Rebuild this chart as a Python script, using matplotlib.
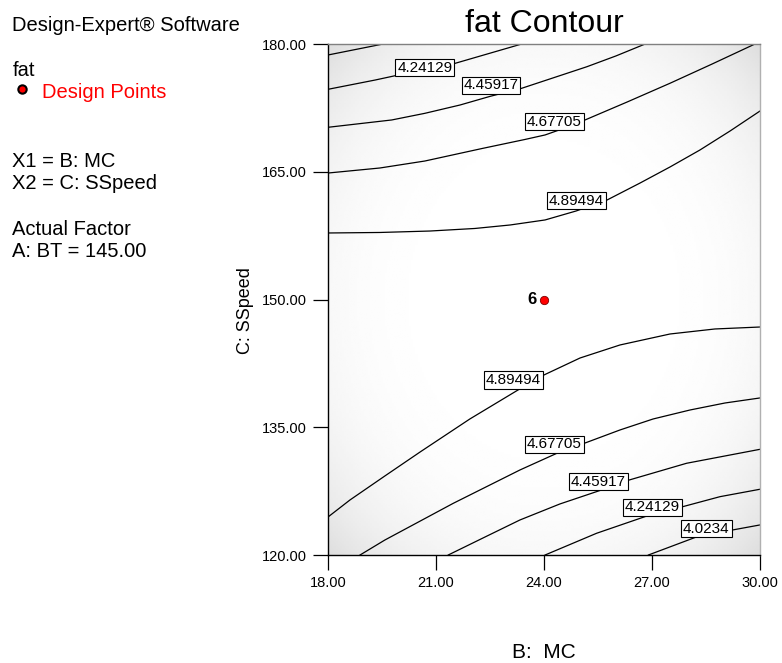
import matplotlib
matplotlib.use("Agg")
import matplotlib.pyplot as plt
import numpy as np
from matplotlib.lines import Line2D

plt.rcParams['font.family'] = ['Liberation Sans', 'DejaVu Sans']

# Factor ranges (B: MC on x, C: SSpeed on y)
x_ticks = [18, 21, 24, 27, 30]
y_ticks = [120, 135, 150, 165, 180]

# contour lines, upper part of the region
top_4023_x = [18.0, 19.53]
top_4023_y = [178.71, 180.0]
top_4241_x = [18.0, 19.31, 20.69, 21.53, 23.38]
top_4241_y = [174.68, 175.77, 177.03, 177.73, 180.0]
top_4459_x = [18.0, 19.77, 20.69, 21.67, 22.5, 23.38, 25.19, 26.0, 26.81]
top_4459_y = [170.22, 171.08, 171.86, 172.84, 173.85, 174.80, 177.33, 178.6, 180.0]
top_4677_x = [18.0, 19.44, 20.69, 22.28, 23.47, 24.03, 24.58, 25.14, 26.31, 27.5, 28.67, 29.86]
top_4677_y = [164.85, 165.44, 166.26, 167.73, 168.79, 169.32, 170.14, 171.08, 173.19, 175.39, 177.65, 180.0]
top_4895_x = [18.0, 19.44, 20.83, 22.08, 23.06, 24.03, 24.89, 25.75, 26.67, 27.5, 28.33, 29.17, 30.0]
top_4895_y = [157.81, 157.87, 158.04, 158.34, 158.75, 159.34, 160.39, 161.68, 163.68, 165.56, 167.55, 169.79, 172.13]

# contour lines, lower part of the region
bot_4895_x = [18.0, 18.61, 19.58, 20.56, 21.94, 23.28, 24.0, 25.0, 26.11, 27.5, 28.75, 30.0]
bot_4895_y = [124.46, 126.46, 129.28, 132.10, 135.97, 139.38, 141.14, 143.13, 144.66, 145.95, 146.54, 146.77]
bot_4677_x = [18.89, 19.58, 21.48, 23.33, 24.44, 25.14, 26.11, 27.03, 28.06, 29.03, 30.0]
bot_4677_y = [120.0, 121.76, 126.07, 129.98, 132.10, 133.15, 134.68, 135.97, 137.03, 137.85, 138.44]
bot_4459_x = [21.34, 22.36, 23.33, 24.44, 25.65, 26.37, 27.96, 30.0]
bot_4459_y = [120.0, 122.11, 124.11, 125.99, 127.71, 128.81, 130.77, 132.41]
bot_4241_x = [24.03, 25.46, 26.94, 27.85, 28.89, 30.0]
bot_4241_y = [120.0, 122.55, 124.70, 125.67, 126.85, 127.72]
bot_4023_x = [26.9, 28.33, 29.24, 30.0]
bot_4023_y = [120.0, 122.27, 122.94, 123.53]

# level labels sitting on the lines
label_text = ['4.24129', '4.45917', '4.67705', '4.89494',
              '4.89494', '4.67705', '4.45917', '4.24129', '4.0234']
label_x = [20.69, 22.53, 24.29, 24.90, 23.15, 24.29, 25.51, 27.01, 28.51]
label_y = [177.24, 175.13, 170.90, 161.62, 140.55, 132.98, 128.63, 125.58, 123.11]

# design point
pt_x = [24.0]
pt_y = [150.0]
pt_count = ['6']

fig = plt.figure(figsize=(7.82, 6.63), dpi=100)
ax = fig.add_axes([328/782, 1-555/663, 432/782, 511/663])

# soft grey shading towards the corners
u, v = np.meshgrid(np.linspace(-1, 1, 200), np.linspace(-1, 1, 200))
r = (u**2 + v**2) / 2
shade = 1 - 0.13 * r**2.2
ax.imshow(shade, extent=[18, 30, 120, 180], cmap='gray', vmin=0, vmax=1,
          aspect='auto', origin='lower', zorder=0, interpolation='bilinear')

lines = [(top_4023_x, top_4023_y), (top_4241_x, top_4241_y),
         (top_4459_x, top_4459_y), (top_4677_x, top_4677_y),
         (top_4895_x, top_4895_y), (bot_4895_x, bot_4895_y),
         (bot_4677_x, bot_4677_y), (bot_4459_x, bot_4459_y),
         (bot_4241_x, bot_4241_y), (bot_4023_x, bot_4023_y)]
for lx, ly in lines:
    ax.plot(lx, ly, color='black', lw=0.9, zorder=2, solid_joinstyle='round')

for t, lx, ly in zip(label_text, label_x, label_y):
    ax.text(lx, ly, t, fontsize=11, ha='center', va='center', zorder=3,
            bbox=dict(boxstyle='square,pad=0.12', fc='white', ec='black', lw=0.8))

ax.plot(pt_x, pt_y, 'o', ms=6, mfc='red', mec='#7a0000', mew=0.6, zorder=4)
for px, py, c in zip(pt_x, pt_y, pt_count):
    ax.text(px - 0.2, py, c, fontsize=12, fontweight='bold', ha='right', va='center', zorder=4)

ax.set_xlim(18, 30)
ax.set_ylim(120, 180)
ax.set_xticks(x_ticks)
ax.set_yticks(y_ticks)
ax.set_xticklabels(['%.2f' % t for t in x_ticks])
ax.set_yticklabels(['%.2f' % t for t in y_ticks])
ax.tick_params(direction='out', length=11, width=0.9, labelsize=10.5, pad=4)

ax.spines['left'].set_color('black')
ax.spines['bottom'].set_color('black')
ax.spines['top'].set_color('#808080')
ax.spines['right'].set_color('#b0b0b0')
for s in ax.spines.values():
    s.set_linewidth(1.0)

ax.set_xlabel('B:  MC', fontsize=15)
ax.xaxis.set_label_coords(0.5, -0.172)
ax.set_ylabel('C: SSpeed', fontsize=13)
ax.yaxis.set_label_coords(-0.172, 0.479)

fig.text(544/782, 1-31.7/663, 'fat Contour', fontsize=23, ha='center', va='baseline')

# side panel text
side = [('Design-Expert® Software', 30.7, 'black'),
        ('fat', 76, 'black'),
        ('Design Points', 97.7, 'red'),
        ('X1 = B: MC', 166.7, 'black'),
        ('X2 = C: SSpeed', 189.3, 'black'),
        ('Actual Factor', 235, 'black'),
        ('A: BT = 145.00', 256.7, 'black')]
for s, yy, col in side:
    xx = 42 if s == 'Design Points' else 12.5
    fig.text(xx/782, 1-yy/663, s, fontsize=14.5, color=col, ha='left', va='baseline')

fig.add_artist(Line2D([22/782], [1-89/663], marker='o', ms=6, mfc='red', mec='black',
                      mew=1.5, transform=fig.transFigure))

plt.savefig('out.png', dpi=100)
